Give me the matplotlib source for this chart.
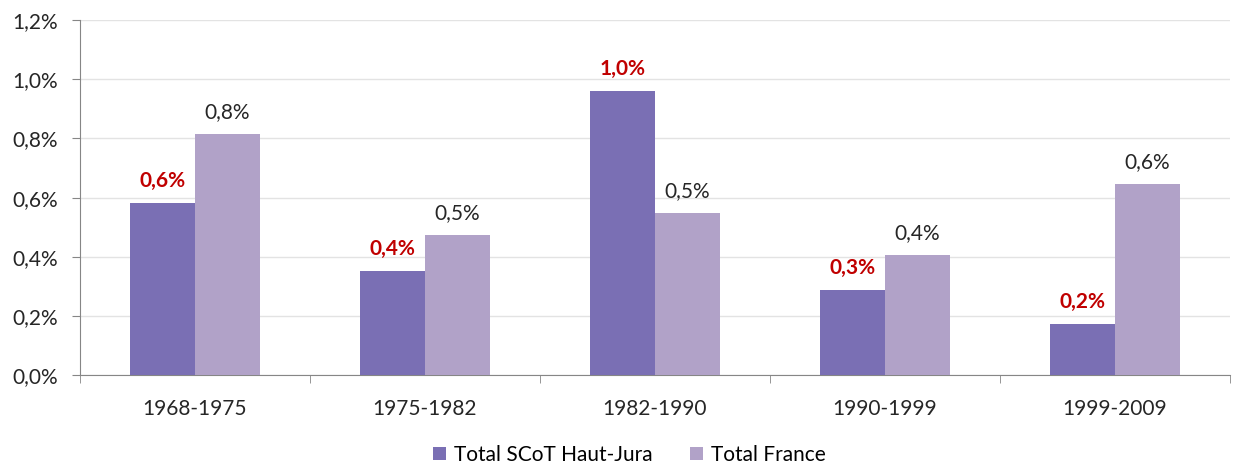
import numpy as np
import matplotlib.pyplot as plt
from matplotlib.ticker import FuncFormatter

periods = ["1968-1975", "1975-1982", "1982-1990", "1990-1999", "1999-2009"]
scot = [0.581, 0.352, 0.960, 0.287, 0.172]
france = [0.815, 0.473, 0.548, 0.406, 0.646]
series_names = ["Total SCoT Haut-Jura", "Total France"]

C_SCOT = "#7A6FB4"
C_FR = "#B1A2C8"
C_AXIS = "#868686"
FS = 15

plt.rcParams["font.family"] = ["Lato", "DejaVu Sans"]


def fr_pct(v, decimals=1):
    return f"{v:.{decimals}f}%".replace(".", ",")


fig = plt.figure(figsize=(12.34, 4.70), dpi=100)
ax = fig.add_axes([0.0648, 0.202, 0.932, 0.755])

x = np.arange(len(periods))
w = 0.283
b1 = ax.bar(x - w / 2, scot, w, color=C_SCOT, label=series_names[0], zorder=3)
b2 = ax.bar(x + w / 2, france, w, color=C_FR, label=series_names[1], zorder=3)

for rect, v in zip(b1, scot):
    ax.text(rect.get_x() + rect.get_width() / 2, v + 0.04, fr_pct(v),
            ha="center", va="bottom", color="#C00000", fontsize=FS, fontweight="bold")
for rect, v in zip(b2, france):
    ax.text(rect.get_x() + rect.get_width() / 2, v + 0.04, fr_pct(v),
            ha="center", va="bottom", color="#262626", fontsize=FS)

ax.set_xlim(-0.5, len(periods) - 0.5)
ax.set_ylim(0, 1.2)
ax.set_yticks(np.arange(0, 1.21, 0.2))
ax.yaxis.set_major_formatter(FuncFormatter(lambda v, _: fr_pct(v)))
ax.set_xticks(x)
ax.set_xticklabels(periods)
ax.set_xticks(np.arange(-0.5, len(periods), 1.0), minor=True)
ax.tick_params(axis="x", which="major", length=0, pad=17, labelsize=FS, labelcolor="#262626")
ax.tick_params(axis="x", which="minor", length=6, color=C_AXIS)
ax.tick_params(axis="y", length=6, color=C_AXIS, labelsize=FS, labelcolor="#262626", pad=10)

ax.grid(axis="y", color="#E3E3E3", linewidth=1, zorder=0)
for s in ["top", "right"]:
    ax.spines[s].set_visible(False)
for s in ["left", "bottom"]:
    ax.spines[s].set_color(C_AXIS)

fig.legend(loc="center", bbox_to_anchor=(0.51, 0.032), ncol=2, frameon=False,
           fontsize=FS, handlelength=0.6, handleheight=0.6, handletextpad=0.4,
           columnspacing=1.8, borderpad=0)

fig.savefig("out.png", dpi=100)
